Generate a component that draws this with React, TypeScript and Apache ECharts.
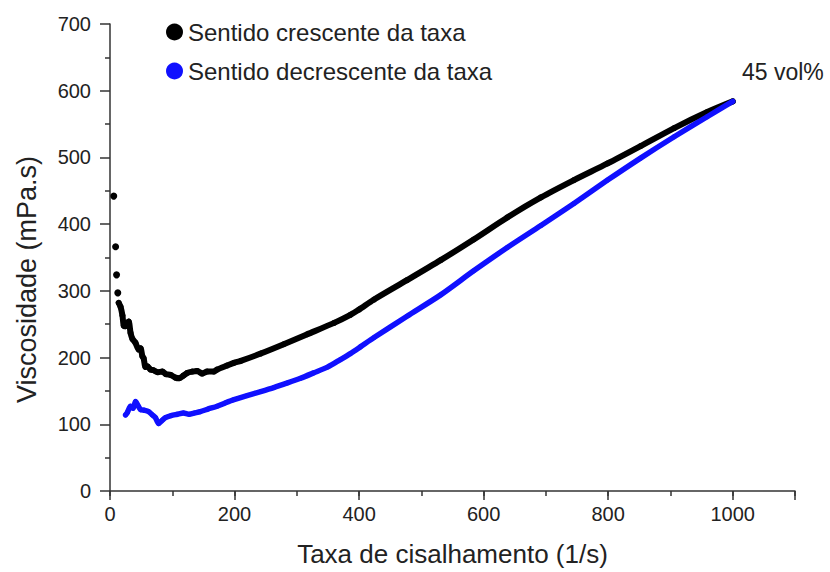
import React, { useEffect, useRef } from "react";
import * as echarts from "echarts";

// Taxa de cisalhamento (1/s) and viscosidade (mPa.s)
const riseStartRate = [6, 9, 10.5, 12.5];
const riseStartVisc = [442, 366, 324, 297];

const riseRate = [14, 17, 20, 22, 25, 30, 33, 36, 41, 46, 49, 52, 54, 57, 60, 65, 70, 77, 84, 90, 97, 105, 111, 118, 124, 132, 140, 148, 156, 167, 172, 188, 199, 210, 242, 279, 317, 360, 386, 400, 424, 477, 531, 584, 638, 692, 745, 799, 852, 906, 959, 1000];
const riseVisc = [282, 276, 263, 248, 247, 254, 237, 228, 222, 212, 214, 202, 199, 186, 187, 182, 181, 178, 179, 175, 174, 170, 169, 173, 177, 179, 180, 176, 179, 179, 182, 188, 192, 195, 206, 220, 235, 252, 264, 272, 287, 316, 346, 377, 410, 440, 466, 491, 517, 544, 568, 584];

const fallRate = [25, 28, 33, 37, 41, 45, 49, 55, 62, 68, 73, 78, 84, 89, 98, 108, 118, 127, 136, 145, 158, 172, 185, 199, 220, 242, 263, 285, 306, 327, 350, 370, 386, 402, 424, 477, 531, 584, 638, 692, 745, 799, 852, 906, 959, 1000];
const fallVisc = [114, 118, 127, 124, 134, 128, 122, 121, 119, 114, 110, 101, 106, 110, 113, 115, 117, 115, 117, 119, 123, 127, 132, 137, 143, 149, 155, 162, 169, 177, 186, 197, 206, 216, 230, 262, 294, 330, 365, 398, 431, 466, 499, 531, 561, 584];

const riseName = "Sentido crescente da taxa";
const fallName = "Sentido decrescente da taxa";
const xTitle = "Taxa de cisalhamento (1/s)";
const yTitle = "Viscosidade (mPa.s)";
const note = "45 vol%";

const FONT = "'Liberation Sans', Arial, Helvetica, sans-serif";
const AXIS = "#333333";
const TEXT = "#222222";
const BLACK = "#000000";
const BLUE = "#1010ff";

const pairs = (xs: number[], ys: number[]) => xs.map((x, i) => [x, ys[i]]);

export default function App() {
  const ref = useRef<HTMLDivElement>(null);
  useEffect(() => {
    if (!ref.current) return;
    const chart = echarts.init(ref.current, undefined, { renderer: "svg" });
    chart.setOption({
      animation: false,
      backgroundColor: "#ffffff",
      grid: { left: 110, right: 35, top: 24, bottom: 80, containLabel: false },
      legend: {
        data: [
          { name: riseName, icon: "circle" },
          { name: fallName, icon: "circle" },
        ],
        orient: "vertical",
        left: 166,
        top: 20,
        padding: 0,
        itemWidth: 17,
        itemHeight: 17,
        itemGap: 15,
        textStyle: { fontFamily: FONT, fontSize: 24, color: TEXT },
      },
      xAxis: [
        {
          type: "value",
          min: 0,
          max: 1100,
          interval: 100,
          name: xTitle,
          nameLocation: "middle",
          nameGap: 50,
          nameTextStyle: { fontFamily: FONT, fontSize: 26, color: TEXT },
          axisLine: { show: true, lineStyle: { color: AXIS, width: 1.5 } },
          axisTick: { show: true, length: 5, lineStyle: { color: AXIS, width: 1.5 } },
          axisLabel: {
            margin: 13,
            fontFamily: FONT,
            fontSize: 20,
            color: TEXT,
            formatter: (v: number) => (v % 200 === 0 && v <= 1000 ? String(v) : ""),
          },
          splitLine: { show: false },
        },
        {
          type: "value",
          min: 0,
          max: 1100,
          interval: 200,
          position: "bottom",
          axisLine: { show: false },
          axisTick: { show: true, length: 9, lineStyle: { color: AXIS, width: 1.5 } },
          axisLabel: { show: false },
          splitLine: { show: false },
        },
      ],
      yAxis: {
        type: "value",
        min: 0,
        max: 700,
        interval: 100,
        name: yTitle,
        nameLocation: "middle",
        nameGap: 70,
        nameTextStyle: { fontFamily: FONT, fontSize: 27, color: TEXT, padding: [0, 44, 0, 0] },
        axisLine: { show: true, lineStyle: { color: AXIS, width: 1.5 } },
        axisTick: { show: true, length: 10, lineStyle: { color: AXIS, width: 1.5 } },
        minorTick: { show: true, splitNumber: 2, length: 5, lineStyle: { color: AXIS, width: 1.5 } },
        axisLabel: { margin: 19, fontFamily: FONT, fontSize: 20, color: TEXT },
        splitLine: { show: false },
      },
      series: [
        {
          name: "inicio",
          type: "scatter",
          data: pairs(riseStartRate, riseStartVisc),
          symbol: "circle",
          symbolSize: 7,
          itemStyle: { color: BLACK, opacity: 1 },
        },
        {
          name: riseName,
          type: "line",
          data: pairs(riseRate, riseVisc),
          smooth: 0.25,
          showSymbol: true,
          symbol: "circle",
          symbolSize: 6,
          itemStyle: { color: BLACK },
          lineStyle: { color: BLACK, width: 6, cap: "round", join: "round" },
          z: 3,
        },
        {
          name: fallName,
          type: "line",
          data: pairs(fallRate, fallVisc),
          smooth: 0.25,
          showSymbol: true,
          symbol: "circle",
          symbolSize: 5,
          itemStyle: { color: BLUE },
          lineStyle: { color: BLUE, width: 5.5, cap: "round", join: "round" },
          z: 4,
        },
      ],
      graphic: [
        {
          type: "text",
          left: 742,
          top: 60,
          style: { text: note, fontFamily: FONT, fontSize: 23, fill: TEXT },
        },
      ],
    });
    return () => chart.dispose();
  }, []);
  return (
    <div
      ref={ref}
      style={{ position: "fixed", left: 0, top: 0, width: 830, height: 572, background: "#fff" }}
    />
  );
}
